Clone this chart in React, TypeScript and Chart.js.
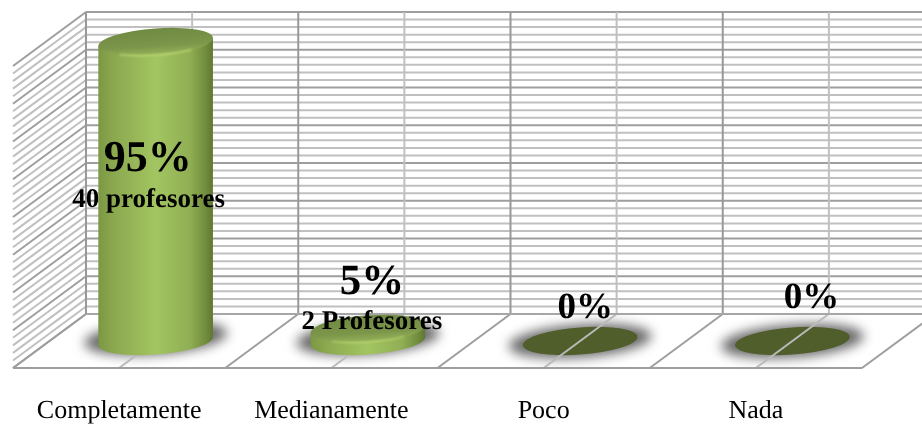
import React, { useEffect, useRef } from "react";
import { Chart, registerables } from "chart.js";

Chart.register(...registerables);

const categories = ["Completamente", "Medianamente", "Poco", "Nada"];
const profesores = [40, 2, 0, 0];
const percentLabels = ["95%", "5%", "0%", "0%"];
const countLabels = ["40 profesores", "2 Profesores", "", ""];

const FONT = '"Liberation Serif", "Times New Roman", serif';
const DEPTH_X = 73;
const DEPTH_Y = 54;
const SHEAR = 0.07;
const ELLIPSE_B = 13.6;
const CAP_DROP = 3;
const RIGHT_LIMIT = 990;

// Label placement relative to each bar's centre x (front plane + half depth), absolute y.
const percentStyle = [
  { dx: -8, y: 160, size: 44 },
  { dx: 4, y: 283, size: 43 },
  { dx: 5, y: 308, size: 37 },
  { dx: 19, y: 298, size: 37 },
];
const countStyle = [
  { dx: -7, y: 200, size: 27 },
  { dx: 4, y: 322, size: 27 },
];

function ellipsePath(ctx: CanvasRenderingContext2D, cx: number, cy: number, a: number, b: number) {
  ctx.beginPath();
  ctx.ellipse(cx, cy, a, b, 0, 0, Math.PI * 2);
  ctx.closePath();
}

function sheared(ctx: CanvasRenderingContext2D, cx: number, cy: number, fn: () => void) {
  ctx.save();
  ctx.translate(cx, cy);
  ctx.transform(1, -SHEAR, 0, 1, 0, 0);
  fn();
  ctx.restore();
}

function line(ctx: CanvasRenderingContext2D, x1: number, y1: number, x2: number, y2: number, color: string, w: number) {
  ctx.strokeStyle = color;
  ctx.lineWidth = w;
  ctx.beginPath();
  ctx.moveTo(x1, y1);
  ctx.lineTo(x2, y2);
  ctx.stroke();
}

const scenePlugin = {
  id: "scene3d",
  beforeDraw(chart: any) {
    chart.ctx.textRendering = "geometricPrecision";
  },
  beforeDatasetsDraw(chart: any) {
    const { ctx, chartArea, scales } = chart;
    const meta = chart.getDatasetMeta(0);
    const { left, right, bottom } = chartArea;
    const y = scales.y;
    const x = scales.x;
    const catW = (right - left) / categories.length;

    ctx.save();
    ctx.lineCap = "butt";
    ctx.filter = "blur(0.55px)";
    const wallLeft = left + DEPTH_X;

    // horizontal lines, back wall and left wall
    const ticks = [...y.ticks].sort((p: any, q: any) => (p.value % 5 === 0 ? 1 : 0) - (q.value % 5 === 0 ? 1 : 0));
    ticks.forEach((t: any) => {
      const py = y.getPixelForValue(t.value);
      const major = t.value % 5 === 0;
      const color = major ? "#9e9e9e" : "#c0c0c0";
      line(ctx, wallLeft, py - DEPTH_Y, RIGHT_LIMIT, py - DEPTH_Y, color, 2);
      line(ctx, left, py, wallLeft, py - DEPTH_Y, color, 2);
    });
    ctx.restore();

    // floor shadows and flat (zero-value) discs sit under the floor lines
    meta.data.forEach((bar: any, i: number) => {
      const a = bar.width / 2;
      const cx = bar.x + DEPTH_X / 2;
      const cy = bottom - DEPTH_Y / 2;
      const zero = profesores[i] === 0;
      sheared(ctx, cx, zero ? cy : cy - 3, () => {
        ctx.save();
        ctx.filter = "blur(6px)";
        ctx.fillStyle = "#686868";
        ellipsePath(ctx, 0, 0, a + 14, ELLIPSE_B + 3);
        ctx.fill();
        ctx.restore();
        if (zero) {
          ctx.fillStyle = "#4f5e2b";
          ellipsePath(ctx, 0, 0, a, ELLIPSE_B);
          ctx.fill();
        }
      });
    });

    ctx.save();
    ctx.lineCap = "butt";
    ctx.filter = "blur(0.55px)";
    // vertical lines and floor lines at category and mid-category positions
    const top = y.getPixelForValue(y.max) - DEPTH_Y;
    const back = bottom - DEPTH_Y;
    const n = categories.length;
    for (let k = 0; k <= n * 2; k++) {
      const px = left + (k * catW) / 2;
      const major = k % 2 === 0;
      line(ctx, px + DEPTH_X, top, px + DEPTH_X, back, major ? "#989898" : "#c0c0c0", 2);
      line(ctx, px, bottom, px + DEPTH_X, back, major ? "#9e9e9e" : "#bababa", 2);
    }
    line(ctx, wallLeft, back, RIGHT_LIMIT, back, "#a6a6a6", 2);
    line(ctx, left, bottom, x.right, bottom, "#9e9e9e", 2);
    ctx.restore();
  },
  afterDatasetsDraw(chart: any) {
    const { ctx } = chart;
    const meta = chart.getDatasetMeta(0);

    meta.data.forEach((bar: any, i: number) => {
      if (profesores[i] === 0) return;
      const a = bar.width / 2;
      const cx = bar.x + DEPTH_X / 2;
      const baseY = bar.base - DEPTH_Y / 2;
      const topY = bar.y - DEPTH_Y / 2 + CAP_DROP;
      const h = baseY - topY;

      sheared(ctx, cx, baseY, () => {
        const g = ctx.createLinearGradient(-a, 0, a, 0);
        g.addColorStop(0, "#7a9744");
        g.addColorStop(0.12, "#8aa74e");
        g.addColorStop(0.5, "#a3c561");
        g.addColorStop(0.8, "#90ae53");
        g.addColorStop(0.93, "#728e3e");
        g.addColorStop(1, "#5f7733");
        ctx.fillStyle = g;
        ctx.beginPath();
        ctx.moveTo(-a, -h);
        ctx.lineTo(-a, 0);
        ctx.ellipse(0, 0, a, ELLIPSE_B, 0, Math.PI, 0, true);
        ctx.lineTo(a, -h);
        ctx.closePath();
        ctx.fill();
      });

      sheared(ctx, cx, topY, () => {
        const g = ctx.createLinearGradient(0, -ELLIPSE_B, 0, ELLIPSE_B);
        g.addColorStop(0, "#6f8a42");
        g.addColorStop(0.65, "#7c974a");
        g.addColorStop(0.9, "#90ac56");
        g.addColorStop(1, "#a9c766");
        ctx.fillStyle = g;
        ellipsePath(ctx, 0, 0, a, ELLIPSE_B);
        ctx.fill();
        ctx.save();
        ctx.filter = "blur(0.8px)";
        ctx.strokeStyle = "#bcd975";
        ctx.lineWidth = 1.2;
        ctx.beginPath();
        ctx.ellipse(0, 0, a - 1, ELLIPSE_B - 0.5, 0, Math.PI * 0.72, Math.PI * 0.28, true);
        ctx.stroke();
        ctx.restore();
      });
    });

    ctx.save();
    ctx.fillStyle = "#000";
    ctx.textAlign = "center";
    ctx.textBaseline = "middle";
    meta.data.forEach((bar: any, i: number) => {
      const cx = bar.x + DEPTH_X / 2;
      const p = percentStyle[i];
      ctx.font = `bold ${p.size}px ${FONT}`;
      ctx.fillText(percentLabels[i], cx + p.dx, p.y);
      const c = countStyle[i];
      if (c && countLabels[i]) {
        ctx.font = `bold ${c.size}px ${FONT}`;
        ctx.fillText(countLabels[i], cx + c.dx, c.y);
      }
    });
    ctx.restore();
  },
};

export default function App() {
  const ref = useRef<HTMLCanvasElement | null>(null);

  useEffect(() => {
    document.body.style.margin = "0";
    document.body.style.background = "#fff";
    const chart = new Chart(ref.current as HTMLCanvasElement, {
      type: "bar",
      data: {
        labels: categories,
        datasets: [
          {
            data: profesores,
            backgroundColor: "rgba(0,0,0,0)",
            borderWidth: 0,
            barPercentage: 0.54,
            categoryPercentage: 1,
          },
        ],
      },
      options: {
        responsive: false,
        animation: false,
        layout: { padding: { left: 13, right: 60, top: 66, bottom: 0 } },
        plugins: { legend: { display: false }, title: { display: false }, tooltip: { enabled: false } },
        scales: {
          x: {
            grid: { display: false },
            border: { display: false },
            afterFit: (s: any) => {
              s.height = 57;
            },
            ticks: {
              color: "#000",
              font: { family: FONT, size: 26 },
              padding: 20,
              maxRotation: 0,
              autoSkip: false,
            },
          },
          y: {
            min: 0,
            max: 40,
            grid: { display: false },
            border: { display: false },
            afterFit: (s: any) => {
              s.width = 0;
            },
            ticks: { display: false, stepSize: 1, autoSkip: false, maxTicksLimit: 100 },
          },
        },
      },
      plugins: [scenePlugin],
    } as any);
    return () => chart.destroy();
  }, []);

  return (
    <div style={{ position: "absolute", left: 0, top: 0, width: 922, height: 425 }}>
      <canvas ref={ref} width={922} height={425} style={{ display: "block" }} />
    </div>
  );
}
